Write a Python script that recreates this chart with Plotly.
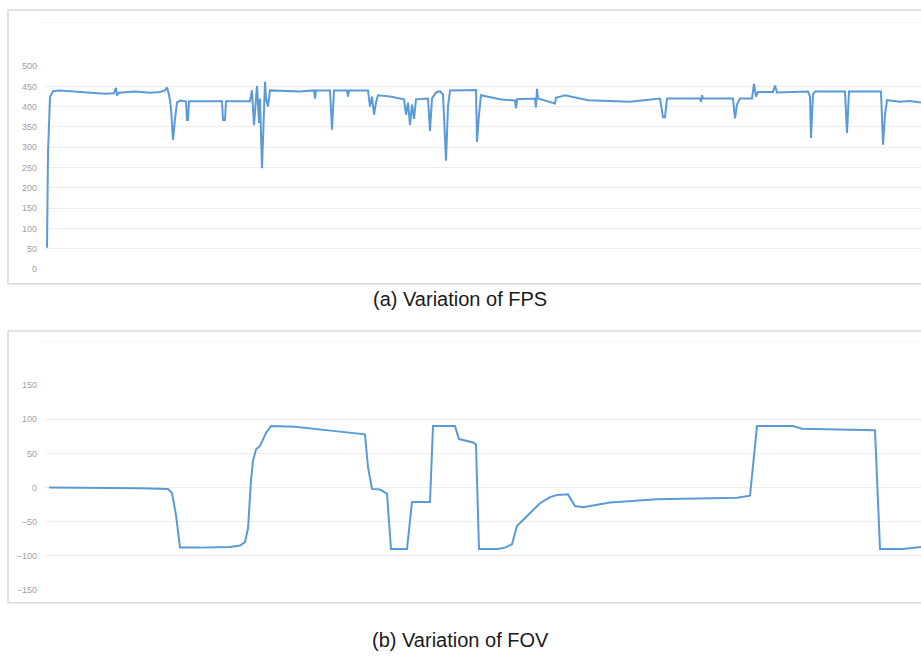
import plotly.graph_objects as go

# ---- data (frame index, value) ----
fps_frame = [0, 1, 3, 6, 13, 28, 43, 58, 67, 69,
             70, 72, 88, 103, 113, 118, 120, 122, 124, 126,
             128, 130, 133, 138, 139, 140, 141, 142, 175, 176,
             178, 179, 203, 205, 206, 207, 209, 210, 212, 213,
             215, 216, 218, 219, 221, 223, 253, 267, 268, 269,
             283, 285, 287, 300, 301, 302, 321, 323, 325, 327,
             329, 331, 343, 357, 359, 361, 363, 365, 367, 369,
             381, 383, 385, 389, 393, 396, 399, 401, 403, 429,
             430, 432, 434, 453, 468, 469, 470, 488, 489, 490,
             491, 508, 509, 518, 541, 583, 613, 616, 618, 620,
             653, 654, 655, 656, 686, 688, 690, 693, 705, 707,
             709, 711, 726, 728, 730, 761, 763, 764, 766, 768,
             798, 800, 802, 834, 836, 838, 840, 853, 863, 874]
fps_value = [52, 286, 424, 438, 440, 437, 435, 432, 433, 446,
             428, 434, 437, 434, 436, 440, 447, 430, 395, 318,
             370, 410, 415, 413, 413, 367, 367, 413, 413, 367,
             367, 413, 413, 440, 400, 354, 420, 451, 360, 420,
             248, 330, 461, 420, 400, 440, 437, 440, 420, 440,
             440, 343, 440, 440, 425, 440, 440, 400, 425, 380,
             410, 428, 425, 418, 380, 410, 355, 405, 370, 418,
             420, 340, 420, 435, 438, 430, 267, 400, 440, 441,
             313, 380, 428, 418, 415, 396, 418, 420, 398, 444,
             420, 408, 422, 428, 416, 412, 420, 374, 374, 420,
             420, 412, 428, 420, 420, 371, 405, 420, 420, 456,
             425, 436, 436, 452, 435, 437, 425, 323, 430, 437,
             437, 335, 437, 437, 306, 380, 416, 412, 414, 410]

fov_frame = [2, 53, 93, 121, 125, 129, 133, 153, 183, 193, 198, 201, 204, 206, 209, 213, 219, 224, 238,
             248, 286, 318, 321, 325, 333, 340, 344, 360, 365, 383, 386, 408, 412, 426, 429, 432, 451, 458,
             465, 470, 473, 483, 493, 503, 510, 521, 528, 536, 563, 610, 690, 703, 710, 746, 755, 828, 833,
             856, 874]
fov_value = [0, 0, -1, -2, -8, -40, -88, -88, -87, -85, -80, -60, 10, 39, 56, 61, 80, 90, 90, 89, 83,
             78, 30, -2, -3, -9, -90, -90, -21, -21, 90, 90, 71, 66, 63, -90, -90, -88, -83, -56, -52, -38,
             -23, -14, -11, -10, -27, -29, -22, -17, -15, -12, 90, 90, 86, 84, -90, -90, -87]

fps_ticks = [0, 50, 100, 150, 200, 250, 300, 350, 400, 450, 500]
fov_ticks = [-150, -100, -50, 0, 50, 100, 150]

caption_a = "(a) Variation of FPS"
caption_b = "(b) Variation of FOV"

W, H = 921, 657
LINE = "#5b9bd5"
GRID = "#ececec"
TICKC = "#a0a0a0"

def fy(px):
    return (H - px) / H

fig = go.Figure()
fig.add_trace(go.Scatter(x=fps_frame, y=fps_value, mode="lines",
                         line=dict(color=LINE, width=2), xaxis="x", yaxis="y", showlegend=False))
fig.add_trace(go.Scatter(x=fov_frame, y=fov_value, mode="lines",
                         line=dict(color=LINE, width=2), xaxis="x2", yaxis="y2", showlegend=False))

xdom = [45 / W, 1.0]
xr = [-2, 874]
common_y = dict(showgrid=True, gridcolor=GRID, gridwidth=1, zeroline=False, showline=False,
                ticks="", tickfont=dict(family="Liberation Sans, Arial", size=9, color=TICKC),
                ticklabelstandoff=7)
fig.update_layout(
    width=W, height=H, margin=dict(l=0, r=0, t=0, b=0),
    paper_bgcolor="white", plot_bgcolor="white",
    xaxis=dict(domain=xdom, range=xr, showgrid=False, zeroline=False, showticklabels=False,
               showline=False, anchor="y"),
    yaxis=dict(domain=[fy(268), fy(62)], range=[0, 500], tickvals=fps_ticks, anchor="x", **common_y),
    xaxis2=dict(domain=xdom, range=xr, showgrid=False, zeroline=False, showticklabels=False,
                showline=False, anchor="y2"),
    yaxis2=dict(domain=[fy(594), fy(386)], range=[-150, 150], tickvals=fov_ticks, anchor="x2",
                **common_y),
)

# panel borders
for (y0, y1) in [(5, 283), (331, 607)]:
    fig.add_shape(type="rect", xref="paper", yref="paper", x0=8 / W, x1=1.01,
                  y0=fy(y1), y1=fy(y0), line=dict(color="#d9d9d9", width=1.5), layer="below")
# faint inner top lines
for yp in [18, 342]:
    fig.add_shape(type="line", xref="paper", yref="paper", x0=40 / W, x1=1.0,
                  y0=fy(yp), y1=fy(yp), line=dict(color="#f3f3f3", width=1), layer="below")

fig.add_annotation(text=caption_a, xref="paper", yref="paper", x=460 / W, y=fy(299),
                   showarrow=False, font=dict(family="Liberation Sans, Arial", size=20, color="#1a1a1a"),
                   xanchor="center", yanchor="middle")
fig.add_annotation(text=caption_b, xref="paper", yref="paper", x=460 / W, y=fy(645),
                   showarrow=False, font=dict(family="Liberation Sans, Arial", size=20, color="#1a1a1a"),
                   xanchor="center", yanchor="middle")

fig.write_html("out.html")
